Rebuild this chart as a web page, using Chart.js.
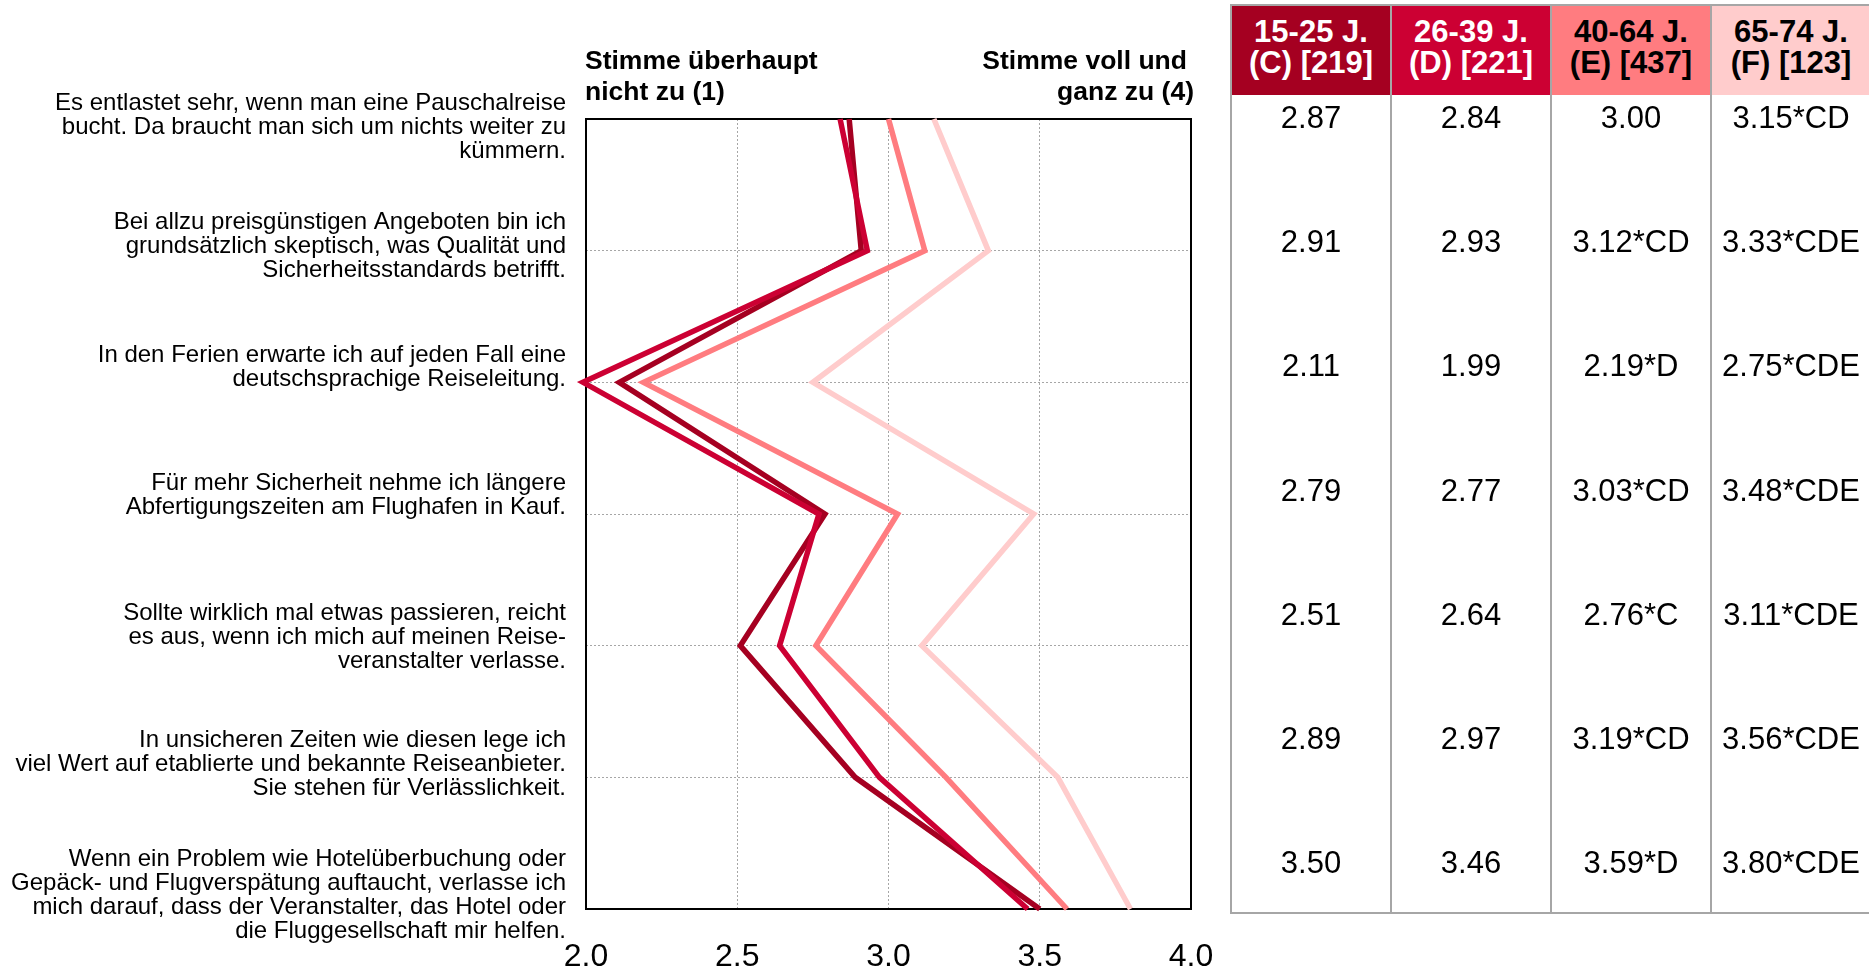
<!DOCTYPE html>
<html lang="de">
<head>
<meta charset="utf-8">
<title>Reiseeinstellungen nach Altersgruppen</title>
<script src="https://cdn.jsdelivr.net/npm/chart.js@4.4.1/dist/chart.umd.min.js"></script>
<style>
  html, body { margin: 0; padding: 0; background: #fff; overflow: hidden; }
  body { width: 1869px; height: 970px; position: relative; font-family: "Liberation Sans", Arial, sans-serif; color: #000; }
  #chart { position: absolute; left: 0; top: 0; }
  .scale-end { position: absolute; top: 45px; font-weight: bold; font-size: 26.5px; line-height: 31px; white-space: nowrap; }
  #endLow { left: 585px; }
  #endHigh { left: 894px; width: 300px; text-align: right; }
  #endHigh span:first-child { margin-right: 7px; }
  #means { position: absolute; left: 1230px; top: 4px; width: 645px; height: 910px; }
  .col { position: absolute; top: 0; width: 160px; height: 910px; box-sizing: border-box;
         border-left: 2px solid #a6a6a6; border-top: 2px solid #a6a6a6; border-bottom: 2px solid #a6a6a6; }
  .head { height: 89px; box-sizing: border-box; padding-bottom: 7px; display: flex; flex-direction: column;
          justify-content: center; align-items: center; font-weight: bold; font-size: 31px; line-height: 31px; }
  .val { position: absolute; left: 0; right: 0; height: 40px; line-height: 40px; text-align: center; font-size: 31px; white-space: nowrap; }
</style>
</head>
<body>
<canvas id="chart" width="1869" height="970"></canvas>
<div id="endLow" class="scale-end"></div>
<div id="endHigh" class="scale-end"></div>
<div id="means"></div>

<script>
// Aussagen (y-Achse), je Zeile eine Zeile des Labels
const statements = [
  ['Es entlastet sehr, wenn man eine Pauschalreise', 'bucht. Da braucht man sich um nichts weiter zu', 'kümmern.'],
  ['Bei allzu preisgünstigen Angeboten bin ich', 'grundsätzlich skeptisch, was Qualität und', 'Sicherheitsstandards betrifft.'],
  ['In den Ferien erwarte ich auf jeden Fall eine', 'deutschsprachige Reiseleitung.'],
  ['Für mehr Sicherheit nehme ich längere', 'Abfertigungszeiten am Flughafen in Kauf.'],
  ['Sollte wirklich mal etwas passieren, reicht', 'es aus, wenn ich mich auf meinen Reise-', 'veranstalter verlasse.'],
  ['In unsicheren Zeiten wie diesen lege ich', 'viel Wert auf etablierte und bekannte Reiseanbieter.', 'Sie stehen für Verlässlichkeit.'],
  ['Wenn ein Problem wie Hotelüberbuchung oder', 'Gepäck- und Flugverspätung auftaucht, verlasse ich', 'mich darauf, dass der Veranstalter, das Hotel oder', 'die Fluggesellschaft mir helfen.']
];

// Altersgruppen
const groups = [
  ['15-25 J.', '(C) [219]'],
  ['26-39 J.', '(D) [221]'],
  ['40-64 J.', '(E) [437]'],
  ['65-74 J.', '(F) [123]']
];

// Mittelwerte je Altersgruppe
const meanC = [2.87, 2.91, 2.11, 2.79, 2.51, 2.89, 3.50];
const meanD = [2.84, 2.93, 1.99, 2.77, 2.64, 2.97, 3.46];
const meanE = [3.00, 3.12, 2.19, 3.03, 2.76, 3.19, 3.59];
const meanF = [3.15, 3.33, 2.75, 3.48, 3.11, 3.56, 3.80];

// signifikante Unterschiede zu den anderen Gruppen
const sigC = ['', '', '', '', '', '', ''];
const sigD = ['', '', '', '', '', '', ''];
const sigE = ['', '*CD', '*D', '*CD', '*C', '*CD', '*D'];
const sigF = ['*CD', '*CDE', '*CDE', '*CDE', '*CDE', '*CDE', '*CDE'];

// Skala
const scaleTicks = [2.0, 2.5, 3.0, 3.5, 4.0];
const scaleEnds = [['Stimme überhaupt', 'nicht zu (1)'], ['Stimme voll und', 'ganz zu (4)']];

const means = [meanC, meanD, meanE, meanF];
const sigs = [sigC, sigD, sigE, sigF];
const groupColors = ['#a50021', '#cc0033', '#ff7c80', '#ffcccc'];
const headTextColors = ['#ffffff', '#ffffff', '#000000', '#000000'];
const drawOrder = [2, 1, 3, 4]; // D liegt oben
const labelShift = [8, -4, -15, -19, -8, -13, -14]; // Versatz der Aussagen zur Gitterlinie (px)

const FONT = '"Liberation Sans", Arial, sans-serif';

// Skalenbeschriftung oben
[['endLow', scaleEnds[0]], ['endHigh', scaleEnds[1]]].forEach(function (e) {
  const box = document.getElementById(e[0]);
  e[1].forEach(function (line) {
    const s = document.createElement('span');
    s.textContent = line;
    box.appendChild(s);
    box.appendChild(document.createElement('br'));
  });
});

// Tabelle mit Mittelwerten
const table = document.getElementById('means');
groups.forEach(function (g, i) {
  const col = document.createElement('div');
  col.className = 'col';
  col.style.left = (i * 160) + 'px';
  const head = document.createElement('div');
  head.className = 'head';
  head.style.background = groupColors[i];
  head.style.color = headTextColors[i];
  g.forEach(function (line) {
    const s = document.createElement('div');
    s.textContent = line;
    head.appendChild(s);
  });
  col.appendChild(head);
  means[i].forEach(function (v, r) {
    const cell = document.createElement('div');
    cell.className = 'val';
    cell.style.top = (92 + r * 124.2) + 'px';
    cell.textContent = v.toFixed(2) + sigs[i][r];
    col.appendChild(cell);
  });
  table.appendChild(col);
});

// schwarzer Rahmen um die Zeichenfläche, unter den Linien
const frame = {
  id: 'frame',
  beforeDatasetsDraw(chart) {
    const a = chart.chartArea;
    const ctx = chart.ctx;
    ctx.save();
    ctx.strokeStyle = '#000';
    ctx.lineWidth = 2;
    ctx.strokeRect(a.left, a.top, a.right - a.left, a.bottom - a.top);
    ctx.restore();
  }
};

// Aussagen einzeln etwas verschieben
const shiftLabels = {
  id: 'shiftLabels',
  beforeDraw(chart) {
    const items = chart.scales.y.getLabelItems(chart.chartArea);
    if (items._shifted) return;
    items.forEach(function (item, i) {
      item.options.translation[1] += labelShift[i] || 0;
    });
    items._shifted = true;
  }
};

const ctx = document.getElementById('chart').getContext('2d');
const chart = new Chart(ctx, {
  type: 'line',
  data: {
    labels: statements,
    datasets: groups.map(function (g, i) {
      return {
        label: g.join(' '),
        data: means[i],
        borderColor: groupColors[i],
        backgroundColor: groupColors[i],
        borderWidth: 5.5,
        pointRadius: 0,
        tension: 0,
        clip: false,
        order: drawOrder[i]
      };
    })
  },
  plugins: [frame, shiftLabels],
  options: {
    indexAxis: 'y',
    responsive: false,
    animation: false,
    devicePixelRatio: 1,
    layout: { padding: { left: 0, right: 678, top: 119, bottom: 0 } },
    plugins: {
      legend: { display: false },
      tooltip: { enabled: false }
    },
    scales: {
      x: {
        type: 'linear',
        position: 'bottom',
        min: 2,
        max: 4,
        afterBuildTicks: function (scale) {
          scale.ticks = scaleTicks.map(function (v) { return { value: v }; });
        },
        afterFit: function (scale) { scale.height = 61; },
        ticks: {
          color: '#000',
          font: { family: FONT, size: 32 },
          padding: 29,
          maxRotation: 0,
          callback: function (v) { return Number(v).toFixed(1); }
        },
        grid: { color: '#a6a6a6', lineWidth: 1, drawTicks: false },
        border: { display: false, dash: [2, 2] }
      },
      y: {
        type: 'category',
        position: 'left',
        offset: false,
        afterFit: function (scale) { scale.width = 586; },
        ticks: {
          color: '#000',
          font: { family: FONT, size: 24, lineHeight: 1.0 },
          padding: 20,
          labelOffset: 0,
          autoSkip: false
        },
        grid: { color: '#a6a6a6', lineWidth: 1, drawTicks: false },
        border: { display: false, dash: [2, 2] }
      }
    }
  }
});
</script>
</body>
</html>
